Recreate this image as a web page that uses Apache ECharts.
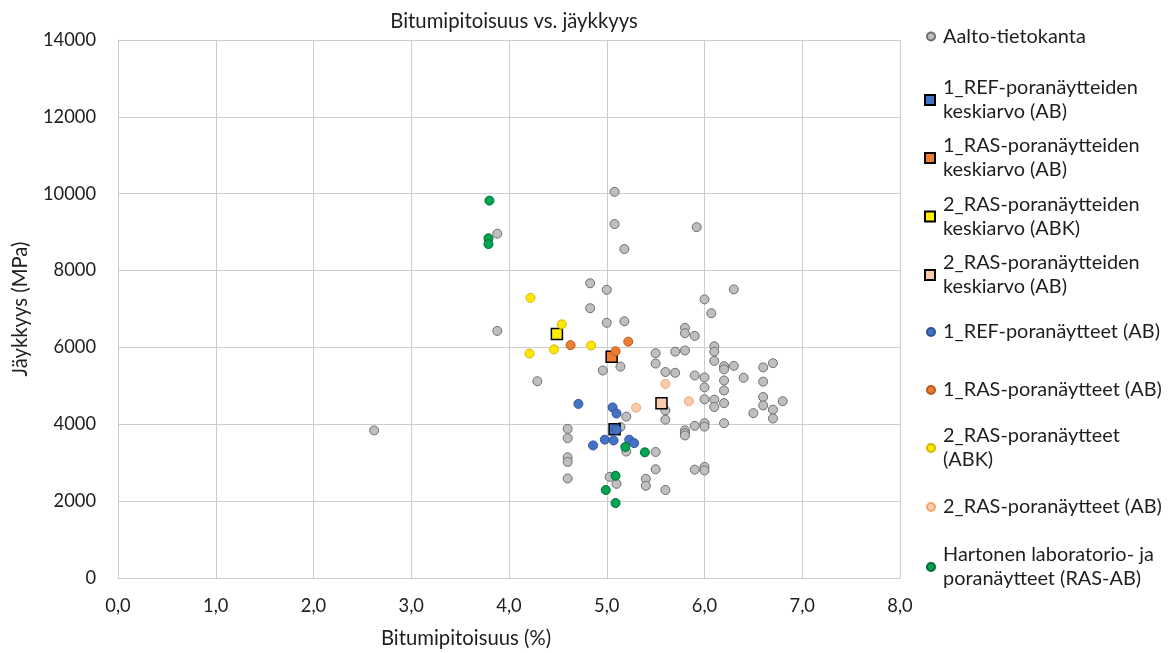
<!DOCTYPE html>
<html>
<head>
<meta charset="utf-8">
<script src="https://cdn.jsdelivr.net/npm/echarts@6/dist/echarts.min.js"></script>
<style>
  html, body { margin: 0; padding: 0; background: #fff; }
  #chart { width: 1172px; height: 653px; }
</style>
</head>
<body>
<div id="chart"></div>
<script>
// Bitumen content (%) vs. stiffness (MPa)
const titleText = 'Bitumipitoisuus vs. jäykkyys';
const xAxisTitle = 'Bitumipitoisuus (%)';
const yAxisTitle = 'Jäykkyys (MPa)';

const seriesNames = [
  'Aalto-tietokanta',
  '1_REF-poranäytteiden\nkeskiarvo (AB)',
  '1_RAS-poranäytteiden\nkeskiarvo (AB)',
  '2_RAS-poranäytteiden\nkeskiarvo (ABK)',
  '2_RAS-poranäytteiden\nkeskiarvo (AB)',
  '1_REF-poranäytteet (AB)',
  '1_RAS-poranäytteet (AB)',
  '2_RAS-poranäytteet\n(ABK)',
  '2_RAS-poranäytteet (AB)',
  'Hartonen laboratorio- ja\nporanäytteet (RAS-AB)'
];

const aaltoPoints = [
  [2.62, 3840],
  [3.88, 8960], [3.88, 6430],
  [4.29, 5120],
  [4.6, 3880], [4.6, 3640], [4.6, 3140], [4.6, 3020], [4.6, 2590],
  [4.83, 7670], [4.83, 7020],
  [4.96, 5400],
  [5.0, 7500], [5.0, 6640],
  [5.03, 2630],
  [5.08, 10050], [5.08, 9210],
  [5.1, 2450],
  [5.14, 5500], [5.14, 3930],
  [5.18, 8560], [5.18, 6680],
  [5.2, 4200], [5.2, 3290],
  [5.4, 2580], [5.4, 2400],
  [5.5, 5850], [5.5, 5580], [5.5, 3280], [5.5, 2830],
  [5.6, 5360], [5.6, 4360], [5.6, 4120], [5.6, 2290],
  [5.7, 5890], [5.7, 5340],
  [5.8, 6510], [5.8, 6370], [5.8, 5920], [5.8, 3840], [5.8, 3770], [5.8, 3710],
  [5.9, 6300], [5.9, 5270], [5.9, 3960], [5.9, 2820],
  [5.92, 9130],
  [6.0, 7250], [6.0, 5220], [6.0, 4960], [6.0, 4650], [6.0, 4030], [6.0, 3940], [6.0, 2890], [6.0, 2800],
  [6.07, 6890],
  [6.1, 6030], [6.1, 5890], [6.1, 5650], [6.1, 4640], [6.1, 4450],
  [6.2, 5510], [6.2, 5430], [6.2, 5140], [6.2, 4880], [6.2, 4550], [6.2, 4030],
  [6.3, 7510], [6.3, 5520],
  [6.4, 5210],
  [6.5, 4290],
  [6.6, 5480], [6.6, 5110], [6.6, 4710], [6.6, 4490],
  [6.7, 5590], [6.7, 4380], [6.7, 4150],
  [6.8, 4600]
];

const ref1Mean = [[5.08, 3870]];
const ras1Mean = [[5.05, 5760]];
const ras2AbkMean = [[4.49, 6350]];
const ras2AbMean = [[5.56, 4550]];

const ref1Samples = [
  [4.71, 4530], [5.06, 4440], [5.1, 4280], [5.1, 3860], [4.98, 3600],
  [5.07, 3580], [4.86, 3450], [5.23, 3600], [5.28, 3510]
];
const ras1Samples = [[4.63, 6060], [5.22, 6150], [5.09, 5900]];
const ras2AbkSamples = [[4.22, 7290], [4.54, 6600], [4.21, 5840], [4.46, 5950], [4.84, 6050]];
const ras2AbSamples = [[5.3, 4430], [5.6, 5050], [5.84, 4600]];
const hartonenSamples = [
  [3.8, 9820], [3.79, 8840], [3.79, 8690], [5.19, 3410],
  [5.39, 3270], [5.09, 2660], [4.99, 2290], [5.09, 1950]
];

const xTicks = { min: 0, max: 8, step: 1 };
const yTicks = { min: 0, max: 14000, step: 2000 };

// font sizing: pick a size so a string occupies a given width
const FONT = 'Lato';
const measureCtx = document.createElement('canvas').getContext('2d');
function fitSize(text, width) {
  measureCtx.font = '100px ' + FONT;
  return Math.round(100 * width / measureCtx.measureText(text).width * 10) / 10;
}
const legendSize = fitSize('Aalto-tietokanta', 143);
const tickSize = fitSize('14000', 53);
const axisNameSize = fitSize(xAxisTitle, 170);
const titleSize = fitSize(titleText, 248);
const TEXT_COLOR = '#1e1e1e';
const GRID_COLOR = '#cdcdcd';

function circleStyle(fill, stroke) {
  return { color: fill, borderColor: stroke, borderWidth: 1, opacity: 1 };
}
function squareStyle(fill) {
  return { color: fill, borderColor: '#000', borderWidth: 1.5, opacity: 1 };
}

const seriesDefs = [
  { data: aaltoPoints, symbol: 'circle', size: 9, style: circleStyle('#bfbfbf', '#6f6f6f') },
  { data: ref1Mean, symbol: 'rect', size: 11, style: squareStyle('#4472c4') },
  { data: ras1Mean, symbol: 'rect', size: 11, style: squareStyle('#ed7d31') },
  { data: ras2AbkMean, symbol: 'rect', size: 11, style: squareStyle('#fff000') },
  { data: ras2AbMean, symbol: 'rect', size: 11, style: squareStyle('#f8cbad') },
  { data: ref1Samples, symbol: 'circle', size: 9, style: circleStyle('#4472c4', '#2f5597') },
  { data: ras1Samples, symbol: 'circle', size: 9, style: circleStyle('#ed7d31', '#b85a1b') },
  { data: ras2AbkSamples, symbol: 'circle', size: 9, style: circleStyle('#ffe800', '#d4b800') },
  { data: ras2AbSamples, symbol: 'circle', size: 9, style: circleStyle('#f8cbad', '#f4a46e') },
  { data: hartonenSamples, symbol: 'circle', size: 9, style: circleStyle('#00a550', '#006b35') }
];

const series = seriesDefs.map((d, i) => ({
  name: seriesNames[i],
  type: 'scatter',
  data: d.data,
  symbol: d.symbol,
  symbolSize: d.size,
  itemStyle: d.style,
  z: 2 + i,
  emphasis: { disabled: true },
  animation: false
}));

// one legend block per series, first text line centred on the given y
const legendLineY = [36.5, 100, 158, 216.5, 275, 332, 390, 448, 507, 567];
const LINE_H = 24;
const legends = seriesNames.map((name, i) => {
  const twoLines = name.indexOf('\n') >= 0;
  const isRect = seriesDefs[i].symbol === 'rect';
  const iconW = isRect ? 10 : 8;
  const boxHalf = twoLines ? LINE_H * 1.5 : LINE_H / 2;
  return {
    data: [name],
    orient: 'vertical',
    left: isRect ? 924 : 926,
    top: legendLineY[i] - boxHalf,
    padding: 0,
    itemWidth: iconW,
    itemHeight: iconW,
    selectedMode: false,
    textStyle: {
      fontFamily: FONT,
      fontSize: legendSize,
      color: TEXT_COLOR,
      lineHeight: LINE_H,
      padding: [twoLines ? LINE_H : 0, 0, 0, 3]
    }
  };
});

const chart = echarts.init(document.getElementById('chart'), null, { renderer: 'canvas' });
chart.setOption({
  animation: false,
  backgroundColor: '#ffffff',
  title: {
    text: titleText,
    left: 509,
    top: 6,
    textAlign: 'center',
    textStyle: { fontFamily: FONT, fontSize: titleSize, fontWeight: 'normal', color: TEXT_COLOR }
  },
  legend: legends,
  grid: { left: 118, right: 272, top: 40, bottom: 74, containLabel: false },
  xAxis: {
    type: 'value',
    min: xTicks.min, max: xTicks.max, interval: xTicks.step,
    name: xAxisTitle,
    nameLocation: 'middle',
    nameGap: 50,
    nameTextStyle: { fontFamily: FONT, fontSize: axisNameSize, color: TEXT_COLOR, padding: [0, 86, 0, 0] },
    axisLine: { show: true, lineStyle: { color: GRID_COLOR, width: 1 } },
    axisTick: { show: false },
    splitLine: { show: true, lineStyle: { color: GRID_COLOR, width: 1 } },
    axisLabel: {
      margin: 19,
      fontFamily: FONT, fontSize: tickSize, color: TEXT_COLOR,
      formatter: v => v.toFixed(1).replace('.', ',')
    }
  },
  yAxis: {
    type: 'value',
    min: yTicks.min, max: yTicks.max, interval: yTicks.step,
    name: yAxisTitle,
    nameLocation: 'middle',
    nameGap: 88,
    nameRotate: 90,
    nameTextStyle: { fontFamily: FONT, fontSize: axisNameSize, color: TEXT_COLOR },
    axisLine: { show: true, lineStyle: { color: GRID_COLOR, width: 1 } },
    axisTick: { show: false },
    splitLine: { show: true, lineStyle: { color: GRID_COLOR, width: 1 } },
    axisLabel: {
      margin: 22, fontFamily: FONT, fontSize: tickSize, color: TEXT_COLOR,
      formatter: v => String(v)
    }
  },
  series: series
});
</script>
</body>
</html>
